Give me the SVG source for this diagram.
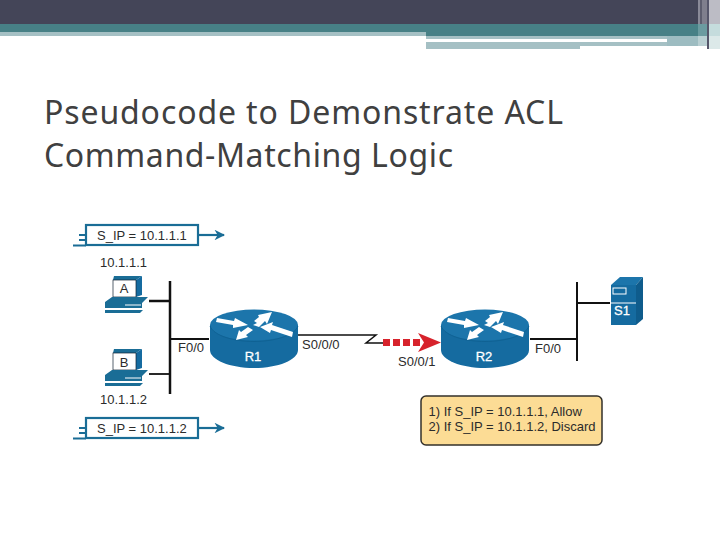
<svg xmlns="http://www.w3.org/2000/svg" width="720" height="540" viewBox="0 0 720 540">
<style>
text{font-family:"Liberation Sans",Arial,sans-serif;fill:#2b2b2b}
.title{font-family:"Noto Sans",sans-serif;font-size:32px;fill:#404040}
.l{font-size:13px}
.w{font-size:13px;text-anchor:middle;stroke:#fff;stroke-width:.3}
.pk{fill:#fff;stroke:#1a6d96;stroke-width:2.200}
.bl{stroke:#1a6d96;stroke-width:2.200;fill:none}
.k{stroke:#111;fill:none}
.rb{fill:#156ba0}
.ra{fill:#fff}
</style>
<defs>
<g id="router">
<path class="rb" d="M-44-14V11C-44 21-24 29 0 29S44 21 44 11V-14Z"/>
<ellipse cx="0" cy="-14" rx="44" ry="15.500" fill="#1c75ab"/>
<path d="M-44-13C-40-3-20 2.500 0 2.500S40-3 44-13" fill="none" stroke="#0e5f90" stroke-width=".8"/>
<path class="ra" d="M-37-21-20-18-19-21-6-14-21-11-21-14-38-17Z"/>
<path class="ra" d="M0-18 5-22 4-24 18-27 13-15 11-18 5-12-1-14 3-16Z"/>
<path class="ra" d="M6-12 19-17 18-14 39-7 38-2 17-9 16-6Z"/>
<path class="ra" d="M-18 1-15-9-13-7-6-12-1-9-8-4-6-2Z"/>
</g>
<g id="pc">
<path d="M-13-27H15L9-23V-6H-14V-23Z" fill="#1a6d96"/>
<path d="M9-23 15-27V-8L9-6Z" fill="#156ba0"/>
<rect x="-14" y="-23" width="23" height="17" fill="#fff" stroke="#123" stroke-width=".7"/>
<path d="M-15-6H21L15 0V5H-22V-1Z" fill="#1a6d96"/>
<path d="M-2 2H14" stroke="#fff" stroke-width="1"/>
<path d="M-22 7H16L13 10H-22Z" fill="#1a6d96"/>
</g>
<marker id="bh" viewBox="0 0 10 10" refX="9" refY="5" markerWidth="4.800" markerHeight="4.800" orient="auto"><path d="M0 0 10 5 0 10 3 5Z" fill="#1a6d96"/></marker>
</defs>
<g id="slide-frame">
<rect width="720" height="24" fill="#444558"/>
<rect y="24" width="698" height="12" fill="#478086"/>
<rect y="32" width="426" height="4" fill="#a5c0c4"/>
<rect x="426" y="36" width="272" height="3" fill="#a5c0c4"/>
<rect x="426" y="39" width="241" height="3" fill="#fff"/>
<rect x="426" y="42" width="154" height="7" fill="#a5c0c4"/>
<rect x="580" y="42" width="87" height="4" fill="#a5c0c4"/>
<rect x="667" y="36" width="31" height="10" fill="#9dbcc1"/>
<rect x="698" y="0" width="2" height="24" fill="#8a8a98"/>
<rect x="700" y="0" width="2" height="24" fill="#5c5d6e"/>
<rect x="702" y="0" width="5" height="24" fill="#7f7f8d"/>
<rect x="707" y="0" width="2" height="49" fill="#55566a"/>
<rect x="709" y="0" width="11" height="24" fill="#bcbcc5"/>
<rect x="698" y="24" width="9" height="12" fill="#6b9ba0"/>
<rect x="709" y="24" width="11" height="12" fill="#c5dcdd"/>
<rect x="698" y="36" width="9" height="10" fill="#b9cfd2"/>
<rect x="709" y="36" width="11" height="13" fill="#dce9e9"/>
</g>
<g id="title">
<text class="title" x="44" y="124" textLength="519">Pseudocode to Demonstrate ACL</text>
<text class="title" x="44" y="167" textLength="409">Command-Matching Logic</text>
</g>
<g id="connectors">
<path class="k" stroke-width="2.500" d="M170 281V394"/>
<path class="k" stroke-width="2.500" d="M149 301H170"/>
<path class="k" stroke-width="1.800" d="M149 374H170"/>
<path class="k" stroke-width="1.800" d="M170 339H209"/>
<path class="k" stroke-width="1.500" d="M298 335H376L366 343H384"/>
<path d="M383 342.500H422" stroke="#d7232c" stroke-width="7" stroke-dasharray="7 3"/>
<path d="M418 333 441 342.500 418 352 424 342.500Z" fill="#d7232c"/>
<path class="k" stroke-width="1.800" d="M530 339H577"/>
<path class="k" stroke-width="2" d="M577 282V361"/>
<path class="k" stroke-width="1.800" d="M577 303H610"/>
</g>
<g id="packet-top">
<path class="bl" d="M73 245.500H86M79 235H86M79 240H86"/>
<rect class="pk" x="86" y="225" width="112" height="20"/>
<path class="bl" d="M198 235H224" marker-end="url(#bh)"/>
<text class="l" x="97" y="240">S_IP = 10.1.1.1</text>
</g>
<g id="packet-bottom">
<path class="bl" d="M73 438.500H86M79 428H86M79 433H86"/>
<rect class="pk" x="86" y="418" width="112" height="20"/>
<path class="bl" d="M198 428H224" marker-end="url(#bh)"/>
<text class="l" x="97" y="433">S_IP = 10.1.1.2</text>
</g>
<g id="host-A">
<text class="l" x="100" y="267">10.1.1.1</text>
<use href="#pc" x="127" y="303"/>
<text x="124" y="293" font-size="13" text-anchor="middle">A</text>
</g>
<g id="host-B">
<use href="#pc" x="127" y="376"/>
<text x="124" y="367" font-size="13" text-anchor="middle">B</text>
<text class="l" x="100" y="404">10.1.1.2</text>
</g>
<g id="R1">
<use href="#router" x="254" y="339"/>
<text class="w" x="253" y="361" style="fill:#fff">R1</text>
</g>
<g id="R2">
<use href="#router" x="485" y="339"/>
<text class="w" x="484" y="361" style="fill:#fff">R2</text>
</g>
<g id="S1">
<path d="M611 285H636V325H611Z" fill="#156ba0"/>
<path d="M611 285 620 277H643L636 285Z" fill="#1c75ab"/>
<path d="M636 285 643 277V319L636 325Z" fill="#0f5c8c"/>
<path d="M611 303H636" stroke="#fff" stroke-width="1"/>
<rect x="613" y="288" width="13" height="6" fill="none" stroke="#fff" stroke-width="1"/>
<text class="w" x="622" y="315" style="fill:#fff">S1</text>
</g>
<g id="interface-labels">
<text class="l" x="178" y="352">F0/0</text>
<text class="l" x="302" y="349">S0/0/0</text>
<text class="l" x="398" y="366">S0/0/1</text>
<text class="l" x="535" y="352.500">F0/0</text>
</g>
<g id="note">
<rect x="421" y="396" width="181" height="49" rx="5" fill="#fcdc95" stroke="#33302a" stroke-width="1.500"/>
<text class="l" x="428.500" y="416">1) If S_IP = 10.1.1.1, Allow</text>
<text class="l" x="428.500" y="430.500">2) If S_IP = 10.1.1.2, Discard</text>
</g>
</svg>
